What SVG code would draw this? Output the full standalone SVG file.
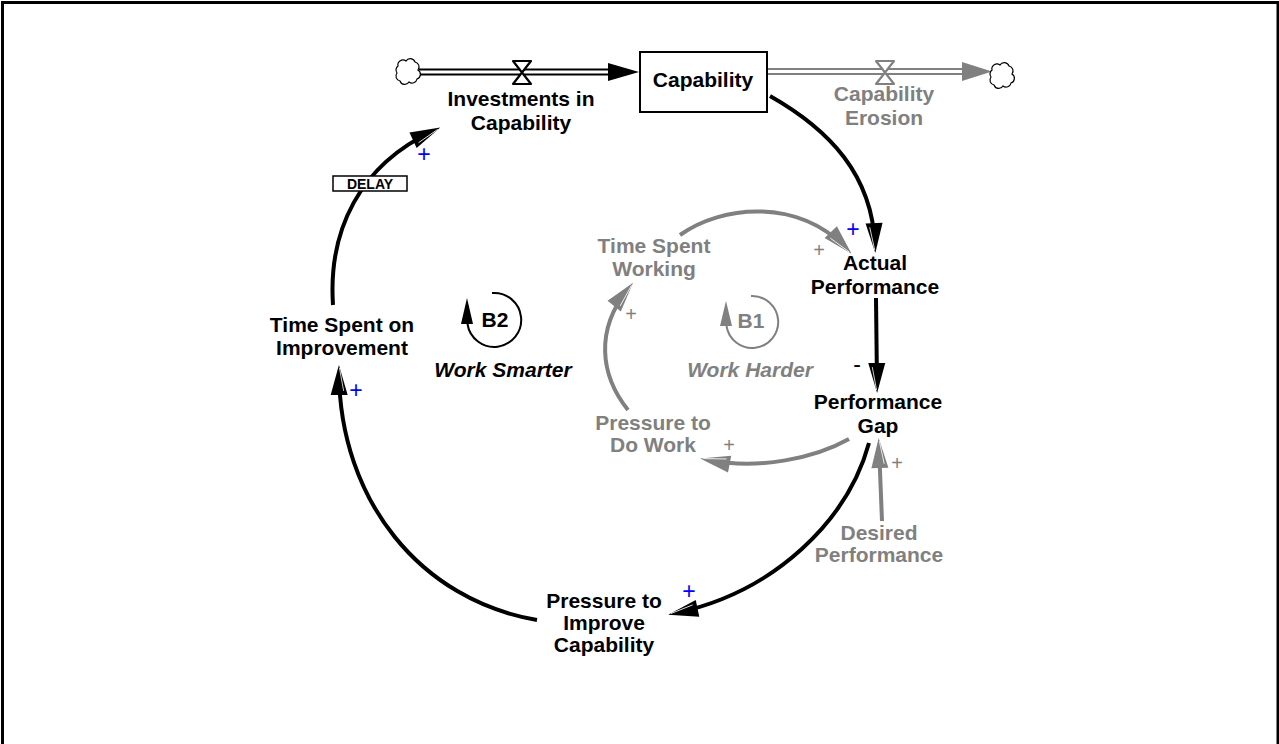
<svg xmlns="http://www.w3.org/2000/svg" width="1279" height="744" viewBox="0 0 1279 744">
<style>
  text { font-family: "Liberation Sans", Arial, sans-serif; font-weight: bold; font-size: 21px; text-anchor: middle; }
  .blk { fill: #000; }
  .gry { fill: #808080; }
  .it { font-style: italic; }
  .pol { font-weight: normal; font-size: 23px; }
  .pg { font-weight: normal; font-size: 20px; fill: #808080; }
  .blue { fill: #0000ff; }
  .lk { fill: none; stroke: #000; stroke-width: 4; }
  .lkg { fill: none; stroke: #808080; stroke-width: 4; }
  .cloud { fill: #fff; stroke: #000; stroke-width: 1.2; }
</style>
<defs>
  <marker id="ah" markerUnits="userSpaceOnUse" markerWidth="32" markerHeight="18" refX="22" refY="8.5" orient="auto" overflow="visible">
    <path d="M0,0 L30,8.5 L0,17 Z" fill="#000"/>
    <path d="M4,13 L27,9" stroke="#fff" stroke-width="0.8"/>
  </marker>
  <marker id="ahg" markerUnits="userSpaceOnUse" markerWidth="32" markerHeight="18" refX="22" refY="8.5" orient="auto" overflow="visible">
    <path d="M0,0 L30,8.5 L0,17 Z" fill="#808080"/>
    <path d="M4,13 L27,9" stroke="#fff" stroke-width="0.8"/>
  </marker>
  <path id="cloudshape" d="M-10,-5 a5,5 0 0 1 8,-5 a5,5 0 0 1 9,1 a5,5 0 0 1 3,8 a5,5 0 0 1 -1,9 a5,5 0 0 1 -8,3 a5,5 0 0 1 -9,-1 a5,5 0 0 1 -3,-8 a5,5 0 0 1 1,-7 z"/>
</defs>
<rect x="0" y="0" width="1279" height="744" fill="#fff"/>
<rect x="2.5" y="2.5" width="1275.5" height="760" fill="none" stroke="#000" stroke-width="3"/>

<g id="connectors">
  <g id="flow-investments">
    <line x1="419" y1="72" x2="612" y2="72" stroke="#000" stroke-width="7"/>
    <line x1="419" y1="72" x2="612" y2="72" stroke="#fff" stroke-width="3"/>
    <path d="M608,63 L639,72 L608,81 Z" fill="#000"/>
    <path d="M513,61 L531,61 L513,84 L531,84 Z" fill="#fff" stroke="#000" stroke-width="2.2" stroke-linejoin="round"/>
    <use href="#cloudshape" class="cloud" x="408" y="71"/>
  </g>
  <g id="flow-erosion">
    <line x1="767" y1="71.5" x2="966" y2="71.5" stroke="#808080" stroke-width="7"/>
    <line x1="767" y1="71.5" x2="966" y2="71.5" stroke="#fff" stroke-width="3"/>
    <path d="M962,62 L992,71.5 L962,81 Z" fill="#808080"/>
    <path d="M876,61 L894,61 L876,84 L894,84 Z" fill="#fff" stroke="#808080" stroke-width="2.2" stroke-linejoin="round"/>
    <use href="#cloudshape" class="cloud" x="1002" y="75"/>
  </g>
  <path class="lk" d="M770,96 C830,130 872,175 875,245" marker-end="url(#ah)"/>
  <path class="lk" d="M876,298 L877,385" marker-end="url(#ah)"/>
  <path class="lk" d="M869,443 C848,520 775,592 676,613" marker-end="url(#ah)"/>
  <path class="lk" d="M537,620 C420,600 340,500 339,373" marker-end="url(#ah)"/>
  <path class="lk" d="M333,305 C328,230 360,165 433,131" marker-end="url(#ah)"/>
  <path class="lkg" d="M680,235 C722,205 798,198 846,248" marker-end="url(#ahg)"/>
  <path class="lkg" d="M849,439 C815,458 760,470 708,460" marker-end="url(#ahg)"/>
  <path class="lkg" d="M628,410 C600,375 595,330 628,289" marker-end="url(#ahg)"/>
  <path class="lkg" d="M882,521 L879,446" marker-end="url(#ahg)"/>
  <g id="delay">
    <rect x="333" y="176" width="74" height="15" fill="#fff" stroke="#000" stroke-width="1.5"/>
    <text x="370" y="189" style="font-size:14px">DELAY</text>
  </g>
  <text class="pol blue" x="853" y="237">+</text>
  <text class="pol blk" x="857" y="372">-</text>
  <text class="pol blue" x="689" y="599">+</text>
  <text class="pol blue" x="356" y="398">+</text>
  <text class="pol blue" x="424" y="162">+</text>
  <text class="pg" x="819" y="257">+</text>
  <text class="pg" x="729" y="452">+</text>
  <text class="pg" x="631" y="321">+</text>
  <text class="pg" x="897" y="470">+</text>
</g>

<g id="capability">
  <rect x="640" y="52" width="127" height="60" fill="#fff" stroke="#000" stroke-width="2"/>
  <text class="blk" x="703" y="87">Capability</text>
</g>
<g id="investments-in-capability">
  <text class="blk" x="521" y="106">Investments in</text>
  <text class="blk" x="521" y="130">Capability</text>
</g>
<g id="capability-erosion">
  <text class="gry" x="884" y="101">Capability</text>
  <text class="gry" x="884" y="125">Erosion</text>
</g>
<g id="actual-performance">
  <text class="blk" x="875" y="270">Actual</text>
  <text class="blk" x="875" y="294">Performance</text>
</g>
<g id="performance-gap">
  <text class="blk" x="878" y="409">Performance</text>
  <text class="blk" x="878" y="433">Gap</text>
</g>
<g id="desired-performance">
  <text class="gry" x="879" y="540">Desired</text>
  <text class="gry" x="879" y="562">Performance</text>
</g>
<g id="pressure-to-improve-capability">
  <text class="blk" x="604" y="608">Pressure to</text>
  <text class="blk" x="604" y="630">Improve</text>
  <text class="blk" x="604" y="652">Capability</text>
</g>
<g id="time-spent-on-improvement">
  <text class="blk" x="342" y="332">Time Spent on</text>
  <text class="blk" x="342" y="355">Improvement</text>
</g>
<g id="time-spent-working">
  <text class="gry" x="654" y="253">Time Spent</text>
  <text class="gry" x="654" y="276">Working</text>
</g>
<g id="pressure-to-do-work">
  <text class="gry" x="653" y="430">Pressure to</text>
  <text class="gry" x="653" y="452">Do Work</text>
</g>
<g id="loop-b2">
  <path d="M492,293 A27,27 0 1 1 467.5,324" fill="none" stroke="#000" stroke-width="2"/>
  <path d="M461,324 L473,324 L467,298 Z" fill="#000"/>
  <text class="blk" x="495" y="327">B2</text>
  <text class="blk it" x="503" y="377">Work Smarter</text>
</g>
<g id="loop-b1">
  <path d="M751,296 A26,26 0 1 1 726.5,326" fill="none" stroke="#808080" stroke-width="2"/>
  <path d="M720,326 L732,326 L726,301 Z" fill="#808080"/>
  <text class="gry" x="751" y="328">B1</text>
  <text class="gry it" x="750" y="377">Work Harder</text>
</g>
</svg>
